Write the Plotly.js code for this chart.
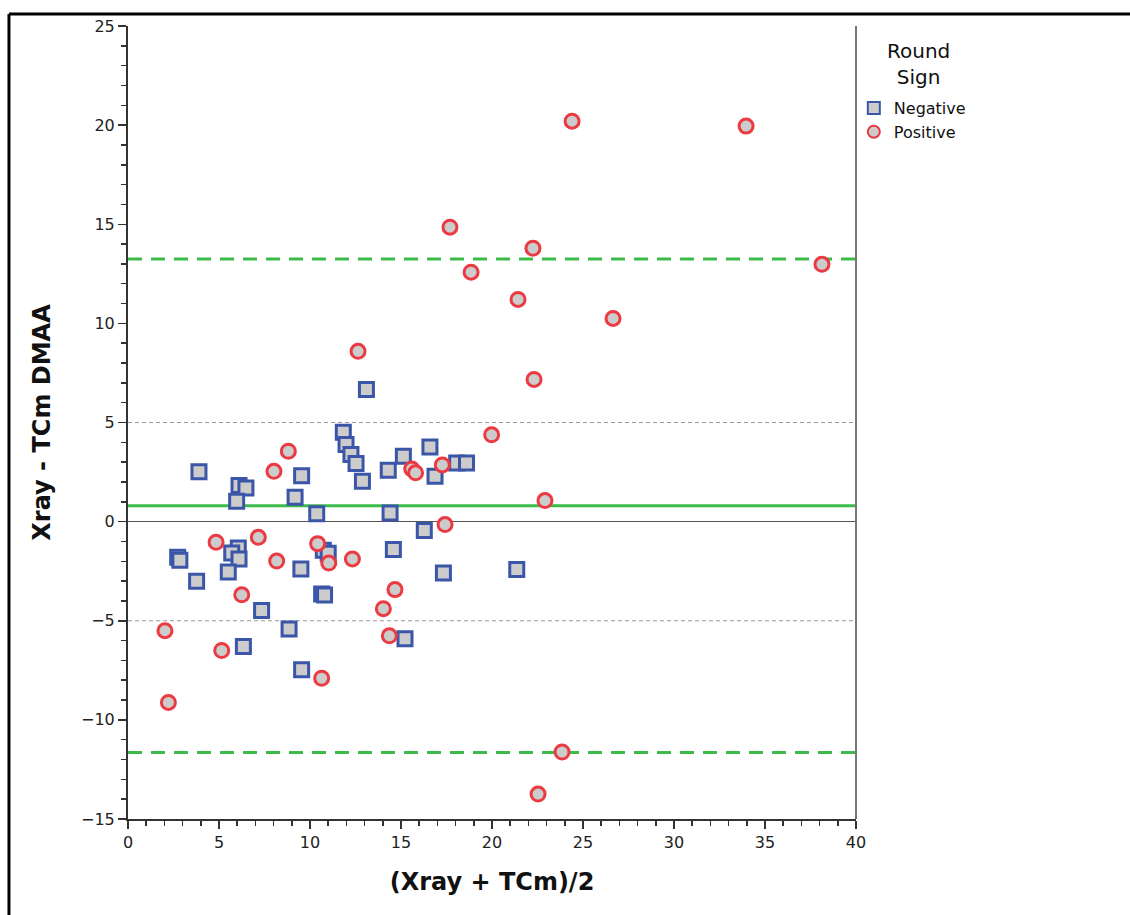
<!DOCTYPE html>
<html>
<head>
<meta charset="utf-8">
<script src="https://cdn.plot.ly/plotly-3.0.1.min.js"></script>
<style>html,body{margin:0;padding:0;background:#fff;}#chart{width:1130px;height:915px;}</style>
</head>
<body>
<div id="chart"></div>
<script>
// Negative (round sign) points: mean and difference
const negX = [3.9, 6.1, 6.48, 5.97, 9.54, 9.18, 10.37, 11.83, 11.98, 12.25, 12.53, 12.88, 13.1, 14.3, 15.13, 16.59, 16.87, 18.06, 18.6, 14.4, 16.28, 14.58, 17.33, 21.36, 2.73, 2.85, 6.06, 5.7, 6.1, 3.77, 5.51, 9.5, 10.73, 11.0, 10.64, 10.8, 7.34, 8.85, 6.34, 9.54, 15.22];
const negY = [2.51, 1.82, 1.7, 1.03, 2.32, 1.23, 0.40, 4.51, 3.89, 3.38, 2.93, 2.04, 6.67, 2.59, 3.3, 3.77, 2.29, 2.96, 2.96, 0.44, -0.45, -1.41, -2.59, -2.42, -1.80, -1.95, -1.33, -1.58, -1.89, -3.01, -2.54, -2.39, -1.45, -1.6, -3.65, -3.7, -4.48, -5.42, -6.3, -7.47, -5.91];
// Positive (round sign) points
const posX = [24.4, 33.96, 17.69, 22.25, 38.13, 18.85, 21.43, 26.65, 12.64, 22.31, 19.98, 8.81, 8.02, 15.59, 15.8, 17.27, 22.91, 17.42, 4.84, 7.16, 10.42, 11.03, 8.17, 12.33, 14.67, 6.25, 14.03, 14.36, 2.03, 5.15, 10.64, 2.22, 23.85, 22.53];
const posY = [20.2, 19.95, 14.85, 13.79, 12.98, 12.58, 11.21, 10.25, 8.59, 7.17, 4.38, 3.55, 2.54, 2.66, 2.46, 2.86, 1.06, -0.15, -1.04, -0.79, -1.11, -2.09, -1.99, -1.88, -3.43, -3.69, -4.39, -5.76, -5.5, -6.5, -7.9, -9.12, -11.62, -13.74];
// Bland-Altman reference values
const meanDiff = 0.8;
const upperLoA = 13.25;
const lowerLoA = -11.65;
const guideLines = [5, -5];
const seriesNames = ["Negative", "Positive"];
const legendTitle = "Round<br>Sign";
const xTitle = "(Xray + TCm)/2";
const yTitle = "Xray - TCm DMAA";

const FONT = "DejaVu Sans, sans-serif";

const traces = [
  {
    x: negX, y: negY, mode: "markers", type: "scatter", name: seriesNames[0],
    marker: {symbol: "square", size: 14, color: "#cccccc", line: {color: "#3b55a8", width: 3}},
    cliponaxis: false
  },
  {
    x: posX, y: posY, mode: "markers", type: "scatter", name: seriesNames[1],
    marker: {symbol: "circle", size: 14, color: "#cccccc", line: {color: "#ec3a42", width: 3}},
    cliponaxis: false
  }
];

const shapes = [];
guideLines.forEach(v => shapes.push({type: "line", xref: "paper", x0: 0, x1: 1, yref: "y", y0: v, y1: v,
  line: {color: "#9a9a9a", width: 1, dash: "4px,3px"}, layer: "below"}));
shapes.push({type: "line", xref: "paper", x0: 0, x1: 1, yref: "y", y0: meanDiff, y1: meanDiff,
  line: {color: "#3dbb4a", width: 3}, layer: "below"});
[upperLoA, lowerLoA].forEach(v => shapes.push({type: "line", xref: "paper", x0: 0, x1: 1, yref: "y", y0: v, y1: v,
  line: {color: "#3dbb4a", width: 3, dash: "14px,9px"}, layer: "below"}));
// right border of plot area
shapes.push({type: "line", xref: "paper", x0: 1, x1: 1, yref: "paper", y0: 0, y1: 1,
  line: {color: "#777", width: 2}});
// outer frame (top and left)
shapes.push({type: "line", xref: "paper", x0: -0.1635, x1: 1.4, yref: "paper", y0: 1.0151, y1: 1.0151,
  line: {color: "#000", width: 3}});
shapes.push({type: "line", xref: "paper", x0: -0.1635, x1: -0.1635, yref: "paper", y0: 1.0151, y1: -0.13,
  line: {color: "#000", width: 3}});

const layout = {
  width: 1130, height: 915,
  margin: {l: 128, r: 274, t: 26, b: 96, pad: 0},
  paper_bgcolor: "#fff", plot_bgcolor: "#fff",
  font: {family: FONT, color: "#222", size: 16},
  showlegend: true,
  legend: {
    x: 0.997, y: 0.918, xanchor: "left", yanchor: "top",
    font: {size: 16, family: FONT, color: "#111"},
    itemsizing: "constant", tracegroupgap: 0, bgcolor: "rgba(0,0,0,0)", itemwidth: 30
  },
  annotations: [{
    text: legendTitle, xref: "paper", yref: "paper", x: 1.086, y: 0.986, xanchor: "center", yanchor: "top",
    showarrow: false, align: "center", font: {size: 20, family: FONT, color: "#111"}
  }],
  xaxis: {
    range: [0, 40], dtick: 5, tick0: 0,
    showgrid: false, zeroline: false,
    showline: true, linecolor: "#333", linewidth: 2,
    ticks: "outside", ticklen: 8, tickwidth: 1.5, tickcolor: "#333",
    minor: {dtick: 1, ticks: "outside", ticklen: 5, tickwidth: 1.5, tickcolor: "#333", showgrid: false},
    tickfont: {size: 16, family: FONT, color: "#222"},
    title: {text: "<b>" + xTitle + "</b>", font: {size: 24, family: FONT, color: "#111"}, standoff: 22}
  },
  yaxis: {
    range: [-15, 25], dtick: 5, tick0: 0,
    showgrid: false,
    zeroline: true, zerolinecolor: "#555", zerolinewidth: 1,
    showline: true, linecolor: "#333", linewidth: 2,
    ticks: "outside", ticklen: 8, tickwidth: 1.5, tickcolor: "#333",
    minor: {dtick: 1, ticks: "outside", ticklen: 5, tickwidth: 1.5, tickcolor: "#333", showgrid: false},
    tickfont: {size: 16, family: FONT, color: "#222"},
    title: {text: "<b>" + yTitle + "</b>", font: {size: 24, family: FONT, color: "#111"}, standoff: 24}
  },
  shapes: shapes
};

Plotly.newPlot("chart", traces, layout, {displayModeBar: false, staticPlot: true});
</script>
</body>
</html>
